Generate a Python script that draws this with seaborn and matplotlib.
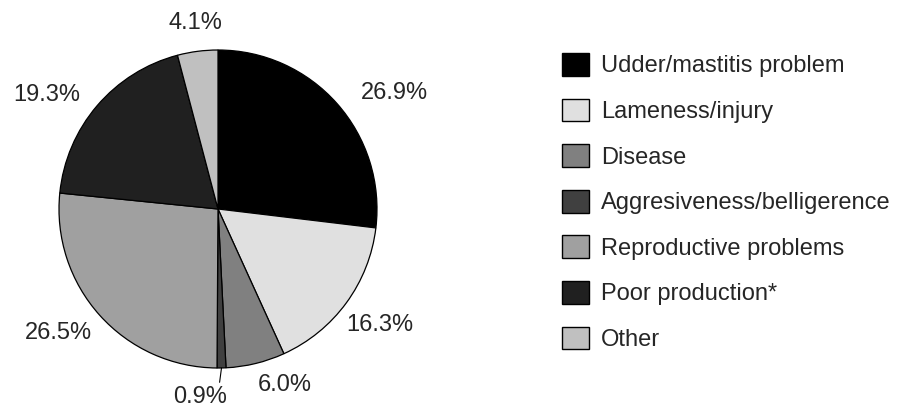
import matplotlib
matplotlib.use("Agg")
import matplotlib.pyplot as plt
import matplotlib.patches as mpatches
import numpy as np
import seaborn as sns

categories = [
    "Udder/mastitis problem",
    "Lameness/injury",
    "Disease",
    "Aggresiveness/belligerence",
    "Reproductive problems",
    "Poor production*",
    "Other",
]
shares = [26.9, 16.3, 6.0, 0.9, 26.5, 19.3, 4.1]
colors = ["#000000", "#e0e0e0", "#808080", "#404040", "#a0a0a0", "#202020", "#c0c0c0"]

# label centres in units of the pie radius
label_xy = [(1.107, 0.730), (1.019, -0.730), (0.42, -1.11), (-0.113, -1.18),
            (-1.006, -0.780), (-1.075, 0.717), (-0.145, 1.17)]

sns.set_style("white")
plt.rcParams["font.family"] = ["Liberation Sans", "DejaVu Sans"]

fig = plt.figure(figsize=(9.02, 4.09), dpi=100)
# square axes centred on the pie
ax = fig.add_axes([18 / 902, 0, 400 / 902, 400 / 409])
lim = 200 / 159

wedges, _ = ax.pie(
    shares,
    colors=colors,
    startangle=90,
    counterclock=False,
    radius=1,
    wedgeprops={"edgecolor": "black", "linewidth": 0.9},
    frame=True,
)
ax.axis("off")
ax.set_xlim(-lim, lim)
ax.set_ylim(-lim, lim)
ax.set_aspect("equal")

for val, (x, y) in zip(shares, label_xy):
    ax.text(x, y, f"{val:.1f}%", ha="center", va="center", fontsize=17)

# leader line for the tiny slice
w = wedges[3]
mid = np.deg2rad((w.theta1 + w.theta2) / 2)
ax.plot([np.cos(mid), np.cos(mid) - 0.012], [np.sin(mid), -1.09], color="black", lw=0.8)

handles = [mpatches.Patch(facecolor=c, edgecolor="black", linewidth=1) for c in colors]
fig.legend(
    handles, categories,
    loc="upper left",
    bbox_to_anchor=(562 / 902, 1 - 53 / 409),
    frameon=False,
    fontsize=17,
    handlelength=1.15,
    handleheight=1.1,
    handletextpad=0.5,
    labelspacing=0.9,
    borderpad=0,
    borderaxespad=0,
)

fig.savefig("out.png", dpi=100)
